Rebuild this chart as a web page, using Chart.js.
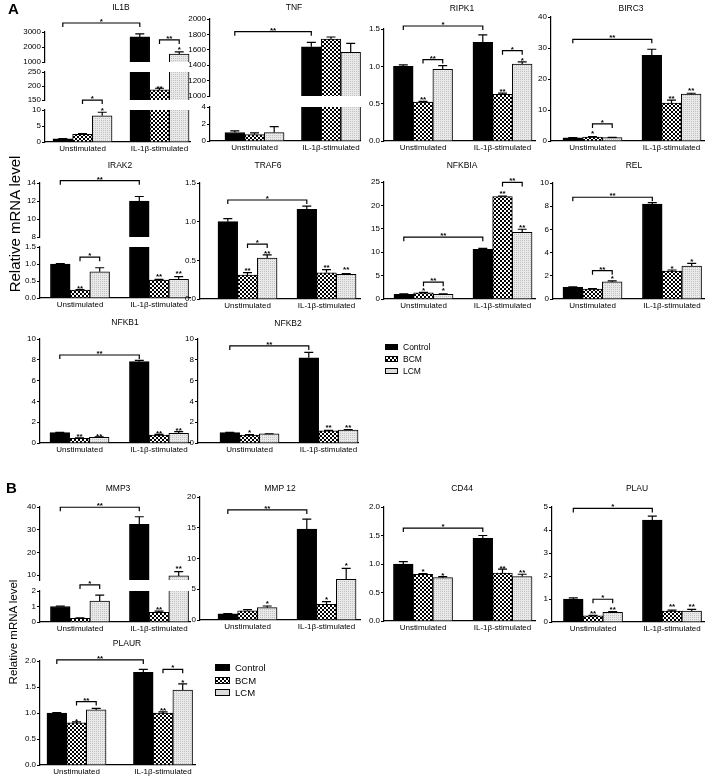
<!DOCTYPE html>
<html>
<head>
<meta charset="utf-8">
<script src="https://cdn.jsdelivr.net/npm/chart.js@4.4.1/dist/chart.umd.min.js"></script>
<style>
body { margin: 0; width: 714px; height: 780px; position: relative; overflow: hidden; background: #fff;
       font-family: "Liberation Sans", Arial, sans-serif; color: #000; }
canvas { position: absolute; }
.title { position: absolute; font-size: 8.5px; width: 80px; text-align: center; white-space: nowrap;
         opacity: 0.99; will-change: transform; }
.panel { position: absolute; font-weight: bold; font-size: 15px; }
.ylab { position: absolute; white-space: nowrap; transform: translate(-50%, -50%) rotate(-90deg); }
.sw { position: absolute; border: 1px solid #000; box-sizing: border-box; }
.lg { position: absolute; white-space: nowrap; transform: translateY(-50%); }
.c0 { background: #000; }
.c1 { background: conic-gradient(#000 25%, #fff 0 50%, #000 0 75%, #fff 0); background-size: 4px 4px; }
.c2 { background: #dcdcdc; }
</style>
</head>
<body>
<script>
const groups = ['Unstimulated', 'IL-1β-stimulated'];
const series = ['Control', 'BCM', 'LCM'];

// bar heights per series (Control, BCM, LCM), [unstimulated, IL-1β-stimulated]
const IL1B = [[1.0, 2670], [2.4, 186], [8.2, 1530]];
const IL1B_err = [[1.1, 2870], [2.6, 192], [9.3, 1670]];
const TNF = [[1.0, 1640], [0.75, 1740], [1.0, 1567]];
const TNF_err = [[1.2, 1697], [0.95, 1766], [1.7, 1684]];
const RIPK1 = [[1.0, 1.32], [0.52, 0.625], [0.96, 1.03]];
const RIPK1_err = [[1.02, 1.42], [0.53, 0.64], [1.01, 1.06]];
const BIRC3 = [[1.0, 27.6], [1.3, 12.2], [1.1, 15.1]];
const BIRC3_err = [[1.1, 29.6], [1.4, 13.2], [1.2, 15.4]];
const IRAK2 = [[1.0, 12.0], [0.23, 0.53], [0.77, 0.55]];
const IRAK2_err = [[1.01, 12.5], [0.25, 0.55], [0.89, 0.63]];
const TRAF6 = [[1.0, 1.16], [0.31, 0.34], [0.53, 0.32]];
const TRAF6_err = [[1.04, 1.2], [0.34, 0.38], [0.57, 0.33]];
const NFKBIA = [[1.0, 10.6], [1.3, 21.9], [1.0, 14.25]];
const NFKBIA_err = [[1.1, 10.8], [1.4, 22.0], [1.1, 14.9]];
const REL = [[1.0, 8.19], [0.85, 2.41], [1.47, 2.84]];
const REL_err = [[1.05, 8.3], [0.9, 2.5], [1.57, 3.07]];
const NFKB1 = [[1.0, 7.82], [0.45, 0.77], [0.55, 0.93]];
const NFKB1_err = [[1.02, 7.95], [0.5, 0.82], [0.6, 1.09]];
const NFKB2 = [[1.0, 8.2], [0.77, 1.18], [0.87, 1.25]];
const NFKB2_err = [[1.03, 8.72], [0.8, 1.22], [0.89, 1.3]];
const MMP3 = [[1.0, 32.4], [0.24, 0.63], [1.35, 9.6]];
const MMP3_err = [[1.03, 35.7], [0.26, 0.7], [1.74, 11.5]];
const MMP12 = [[1.0, 14.8], [1.5, 2.56], [2.0, 6.6]];
const MMP12_err = [[1.05, 16.4], [1.7, 3.0], [2.28, 8.4]];
const CD44 = [[1.0, 1.45], [0.82, 0.84], [0.76, 0.78]];
const CD44_err = [[1.04, 1.5], [0.83, 0.91], [0.78, 0.82]];
const PLAU = [[1.0, 4.43], [0.27, 0.47], [0.42, 0.48]];
const PLAU_err = [[1.05, 4.6], [0.29, 0.52], [0.45, 0.55]];
const PLAUR = [[1.0, 1.78], [0.81, 1.0], [1.06, 1.44]];
const PLAUR_err = [[1.01, 1.84], [0.83, 1.02], [1.09, 1.56]];

// significance marks: bracket a..b ([series, group]) or star over a bar, at value v
const IL1B_sig = [
  {s: 0, a: [0, 0], b: [0, 1], v: 3600, t: '*'},
  {s: 0, a: [1, 1], b: [2, 1], v: 2470, t: '**'},
  {s: 0, at: [2, 1], v: 1950, t: '*'},
  {s: 1, at: [1, 1], v: 197, t: '**'},
  {s: 2, a: [1, 0], b: [2, 0], v: 13.1, t: '*'},
  {s: 2, at: [2, 0], v: 10.5, t: '*'}
];
const TNF_sig = [{s: 0, a: [0, 0], b: [0, 1], v: 1835, t: '**'}];
const RIPK1_sig = [
  {a: [0, 0], b: [0, 1], v: 1.54, t: '*'}, {a: [1, 0], b: [2, 0], v: 1.09, t: '**'},
  {a: [1, 1], b: [2, 1], v: 1.21, t: '*'}, {at: [1, 0], v: 0.58, t: '**'},
  {at: [1, 1], v: 0.69, t: '**'}, {at: [2, 1], v: 1.11, t: '*'}
];
const BIRC3_sig = [
  {a: [0, 0], b: [0, 1], v: 32.8, t: '**'}, {a: [1, 0], b: [2, 0], v: 5.5, t: '*'},
  {at: [1, 0], v: 3.2, t: '*'}, {at: [1, 1], v: 14.3, t: '**'}, {at: [2, 1], v: 17, t: '**'}
];
const IRAK2_sig = [
  {s: 0, a: [0, 0], b: [0, 1], v: 14.26, t: '**'}, {s: 1, a: [1, 0], b: [2, 0], v: 1.2, t: '*'},
  {s: 1, at: [1, 0], v: 0.35, t: '**'}, {s: 1, at: [1, 1], v: 0.68, t: '**'}, {s: 1, at: [2, 1], v: 0.77, t: '**'}
];
const TRAF6_sig = [
  {a: [0, 0], b: [0, 1], v: 1.28, t: '*'}, {a: [1, 0], b: [2, 0], v: 0.71, t: '*'},
  {at: [1, 0], v: 0.40, t: '**'}, {at: [2, 0], v: 0.62, t: '**'},
  {at: [1, 1], v: 0.43, t: '**'}, {at: [2, 1], v: 0.41, t: '**'}
];
const NFKBIA_sig = [
  {a: [0, 0], b: [0, 1], v: 13.2, t: '**'}, {a: [1, 1], b: [2, 1], v: 24.9, t: '**'},
  {a: [1, 0], b: [2, 0], v: 3.6, t: '**'}, {at: [1, 0], v: 2.35, t: '*'}, {at: [2, 0], v: 2.35, t: '*'},
  {at: [1, 1], v: 22.9, t: '**'}, {at: [2, 1], v: 15.8, t: '**'}
];
const REL_sig = [
  {a: [0, 0], b: [0, 1], v: 8.77, t: '**'}, {a: [1, 0], b: [2, 0], v: 2.44, t: '**'},
  {at: [2, 0], v: 1.98, t: '*'}, {at: [1, 1], v: 2.8, t: '*'}, {at: [2, 1], v: 3.45, t: '*'}
];
const NFKB1_sig = [
  {a: [0, 0], b: [0, 1], v: 8.46, t: '**'}, {at: [1, 0], v: 0.87, t: '**'}, {at: [2, 0], v: 0.87, t: '**'},
  {at: [1, 1], v: 1.15, t: '**'}, {at: [2, 1], v: 1.41, t: '**'}
];
const NFKB2_sig = [
  {a: [0, 0], b: [0, 1], v: 9.33, t: '**'}, {at: [1, 0], v: 1.18, t: '*'},
  {at: [1, 1], v: 1.66, t: '**'}, {at: [2, 1], v: 1.66, t: '**'}
];
const MMP3_sig = [
  {s: 0, a: [0, 0], b: [0, 1], v: 39.9, t: '**'}, {s: 0, at: [2, 1], v: 13.7, t: '**'},
  {s: 1, a: [1, 0], b: [2, 0], v: 2.39, t: '*'}, {s: 1, at: [1, 1], v: 0.92, t: '**'}
];
const MMP12_sig = [
  {a: [0, 0], b: [0, 1], v: 17.9, t: '**'}, {at: [2, 0], v: 3.0, t: '*'},
  {at: [1, 1], v: 3.7, t: '*'}, {at: [2, 1], v: 9.25, t: '*'}
];
const CD44_sig = [
  {a: [0, 0], b: [0, 1], v: 1.63, t: '*'}, {at: [1, 0], v: 0.91, t: '*'}, {at: [2, 0], v: 0.84, t: '*'},
  {at: [1, 1], v: 0.96, t: '**'}, {at: [2, 1], v: 0.89, t: '**'}
];
const PLAU_sig = [
  {a: [0, 0], b: [0, 1], v: 4.94, t: '*'}, {a: [1, 0], b: [2, 0], v: 0.99, t: '*'},
  {at: [1, 0], v: 0.45, t: '**'}, {at: [2, 0], v: 0.62, t: '**'},
  {at: [1, 1], v: 0.78, t: '**'}, {at: [2, 1], v: 0.78, t: '**'}
];
const PLAUR_sig = [
  {a: [0, 0], b: [0, 1], v: 2.02, t: '**'}, {a: [1, 0], b: [2, 0], v: 1.22, t: '**'},
  {a: [1, 1], b: [2, 1], v: 1.84, t: '*'}, {at: [1, 0], v: 0.88, t: '*'},
  {at: [1, 1], v: 1.09, t: '**'}, {at: [2, 1], v: 1.63, t: '*'}
];

// panel layout (pixels); broken axes are split into segments, top first
const panels = [
  {t: 'IL1B', tx: 121, ty: 7, d: IL1B, e: IL1B_err, s: IL1B_sig, x0: 45, x1: 190, c0: 82.5, c1: 159.5,
   segs: [{min: 1000, max: 3000, ticks: [1000, 2000, 3000], top: 32, bot: 62},
          {min: 150, max: 250, ticks: [150, 200, 250], top: 72, bot: 100},
          {min: 0, max: 10, ticks: [0, 5, 10], top: 110, bot: 142}]},
  {t: 'TNF', tx: 294, ty: 7, d: TNF, e: TNF_err, s: TNF_sig, x0: 210, x1: 360, c0: 254.5, c1: 331,
   segs: [{min: 1000, max: 2000, ticks: [1000, 1200, 1400, 1600, 1800, 2000], top: 19, bot: 96},
          {min: 0, max: 4, ticks: [0, 2, 4], top: 107, bot: 141}]},
  {t: 'RIPK1', tx: 462, ty: 8, d: RIPK1, e: RIPK1_err, s: RIPK1_sig, x0: 384, x1: 535, c0: 423, c1: 502.5,
   segs: [{min: 0, max: 1.5, ticks: [0, 0.5, 1, 1.5], dec: 1, top: 29, bot: 141}]},
  {t: 'BIRC3', tx: 631, ty: 8, d: BIRC3, e: BIRC3_err, s: BIRC3_sig, x0: 551, x1: 704, c0: 592.5, c1: 671.5,
   segs: [{min: 0, max: 40, ticks: [0, 10, 20, 30, 40], top: 17, bot: 141}]},
  {t: 'IRAK2', tx: 120, ty: 165, d: IRAK2, e: IRAK2_err, s: IRAK2_sig, x0: 40, x1: 190, c0: 80, c1: 159,
   segs: [{min: 8, max: 14, ticks: [8, 10, 12, 14], top: 183, bot: 237},
          {min: 0, max: 1.5, ticks: [0, 0.5, 1, 1.5], dec: 1, top: 247, bot: 298}]},
  {t: 'TRAF6', tx: 268, ty: 165, d: TRAF6, e: TRAF6_err, s: TRAF6_sig, x0: 200, x1: 360, c0: 247.5, c1: 326.5,
   segs: [{min: 0, max: 1.5, ticks: [0, 0.5, 1, 1.5], dec: 1, top: 183, bot: 299}]},
  {t: 'NFKBIA', tx: 462, ty: 165, d: NFKBIA, e: NFKBIA_err, s: NFKBIA_sig, x0: 384, x1: 535, c0: 423.5, c1: 502.5,
   segs: [{min: 0, max: 25, ticks: [0, 5, 10, 15, 20, 25], top: 182, bot: 299}]},
  {t: 'REL', tx: 634, ty: 165, d: REL, e: REL_err, s: REL_sig, x0: 553, x1: 704, c0: 592.5, c1: 672,
   segs: [{min: 0, max: 10, ticks: [0, 2, 4, 6, 8, 10], top: 183, bot: 299}]},
  {t: 'NFKB1', tx: 125, ty: 322, d: NFKB1, e: NFKB1_err, s: NFKB1_sig, x0: 40, x1: 190, c0: 79.5, c1: 159,
   segs: [{min: 0, max: 10, ticks: [0, 2, 4, 6, 8, 10], top: 339, bot: 443}]},
  {t: 'NFKB2', tx: 288, ty: 323, d: NFKB2, e: NFKB2_err, s: NFKB2_sig, x0: 198, x1: 358, c0: 249.5, c1: 328.5,
   segs: [{min: 0, max: 10, ticks: [0, 2, 4, 6, 8, 10], top: 339, bot: 443}]},
  {t: 'MMP3', tx: 118, ty: 488, d: MMP3, e: MMP3_err, s: MMP3_sig, x0: 40, x1: 190, c0: 80, c1: 159,
   segs: [{min: 7.8, max: 40, ticks: [10, 20, 30, 40], top: 507, bot: 580},
          {min: 0, max: 2, ticks: [0, 1, 2], top: 591, bot: 622}]},
  {t: 'MMP 12', tx: 280, ty: 488, d: MMP12, e: MMP12_err, s: MMP12_sig, x0: 200, x1: 360, c0: 247.5, c1: 326.5,
   segs: [{min: 0, max: 20, ticks: [0, 5, 10, 15, 20], top: 497, bot: 620}]},
  {t: 'CD44', tx: 462, ty: 488, d: CD44, e: CD44_err, s: CD44_sig, x0: 384, x1: 535, c0: 423, c1: 502.5,
   segs: [{min: 0, max: 2, ticks: [0, 0.5, 1, 1.5, 2], dec: 1, top: 507, bot: 621}]},
  {t: 'PLAU', tx: 637, ty: 488, d: PLAU, e: PLAU_err, s: PLAU_sig, x0: 552, x1: 704, c0: 593, c1: 672,
   segs: [{min: 0, max: 5, ticks: [0, 1, 2, 3, 4, 5], top: 507, bot: 622}]},
  {t: 'PLAUR', tx: 127, ty: 643, d: PLAUR, e: PLAUR_err, s: PLAUR_sig, x0: 40, x1: 195, c0: 76.5, c1: 163,
   segs: [{min: 0, max: 2, ticks: [0, 0.5, 1, 1.5, 2], dec: 1, top: 661, bot: 765}]}
];

const AXW = 30, PR = 6, XH = 14, PADT = 24, PADB = 6, BAR = 19.7, CAP = 4.5;
const FAMILY = "'Liberation Sans', Arial, sans-serif";
const tickFont = {family: FAMILY, size: 8};

// fills: solid black, checkerboard, light stipple
function makePattern(size, paint) {
    const c = document.createElement('canvas');
    c.width = c.height = size;
    paint(c.getContext('2d'));
    return c.getContext('2d').createPattern(c, 'repeat');
}
const fills = [
    '#000',
    makePattern(4, g => {
        g.fillStyle = '#fff'; g.fillRect(0, 0, 4, 4);
        g.fillStyle = '#000'; g.fillRect(0, 0, 2, 2); g.fillRect(2, 2, 2, 2);
    }),
    makePattern(2, g => {
        g.fillStyle = '#e9e9e9'; g.fillRect(0, 0, 2, 2);
        g.fillStyle = '#c2c2c2'; g.fillRect(0, 0, 1, 1);
    })
];

// error bars and significance marks for one segment
function makeMarks(p, k) {
    const seg = p.segs[k];
    return {
        id: 'marks',
        afterDatasetsDraw(chart) {
            const ctx = chart.ctx;
            const ys = chart.scales.y;
            const barX = ([i, j]) => chart.getDatasetMeta(i).data[j].x;
            ctx.save();
            ctx.strokeStyle = '#000';
            ctx.fillStyle = '#000';
            ctx.lineWidth = 1.2;
            for (let i = 0; i < 3; i++) {
                for (let j = 0; j < 2; j++) {
                    const v = p.d[i][j];
                    if (v <= seg.min || v > seg.max) continue;
                    const x = barX([i, j]);
                    const y0 = ys.getPixelForValue(v);
                    const y1 = ys.getPixelForValue(p.e[i][j]);
                    ctx.beginPath();
                    ctx.moveTo(x, y0); ctx.lineTo(x, y1);
                    ctx.moveTo(x - CAP, y1); ctx.lineTo(x + CAP, y1);
                    ctx.stroke();
                }
            }
            ctx.font = 'bold 8px ' + FAMILY;
            ctx.textAlign = 'center';
            ctx.textBaseline = 'alphabetic';
            p.s.filter(m => (m.s || 0) === k).forEach(m => {
                const y = ys.getPixelForValue(m.v);
                if (m.a) {
                    const xa = barX(m.a), xb = barX(m.b);
                    ctx.beginPath();
                    ctx.moveTo(xa, y + 4); ctx.lineTo(xa, y); ctx.lineTo(xb, y); ctx.lineTo(xb, y + 4);
                    ctx.stroke();
                    ctx.fillText(m.t, (xa + xb) / 2, y + 1);
                } else {
                    ctx.fillText(m.t, barX(m.at), y + 4.6);
                }
            });
            ctx.restore();
        }
    };
}

function addSegment(p, k) {
    const seg = p.segs[k];
    const last = k === p.segs.length - 1;
    const w = AXW + (p.x1 - p.x0) + PR;
    const h = PADT + (seg.bot - seg.top) + (last ? XH : PADB);
    const cv = document.createElement('canvas');
    cv.width = w; cv.height = h;
    cv.style.left = (p.x0 - AXW) + 'px';
    cv.style.top = (seg.top - PADT) + 'px';
    cv.style.width = w + 'px'; cv.style.height = h + 'px';
    document.body.appendChild(cv);

    const span = p.c1 - p.c0;
    new Chart(cv, {
        type: 'bar',
        data: {
            datasets: series.map((name, i) => ({
                label: name,
                data: groups.map((g, j) => ({x: j, y: p.d[i][j]})),
                backgroundColor: fills[i],
                borderColor: '#000',
                borderWidth: 1,
                barThickness: BAR,
                clip: {left: 8, right: 8, top: 0, bottom: 0}
            }))
        },
        options: {
            responsive: false,
            animation: false,
            devicePixelRatio: 1,
            layout: {padding: {top: PADT, bottom: last ? 0 : PADB, left: 0, right: PR}},
            plugins: {legend: {display: false}, tooltip: {enabled: false}},
            scales: {
                x: {
                    type: 'linear',
                    offset: false,
                    display: last,
                    min: (p.x0 - p.c0) / span,
                    max: 1 + (p.x1 - p.c1) / span,
                    afterBuildTicks: s => { s.ticks = groups.map((g, j) => ({value: j})); },
                    afterFit: s => { s.height = last ? XH : 0; },
                    grid: {display: false, drawTicks: false},
                    border: {display: true, color: '#000', width: 1.2},
                    ticks: {callback: v => groups[v], font: tickFont, color: '#000', padding: 2,
                            autoSkip: false, maxRotation: 0}
                },
                y: {
                    min: seg.min,
                    max: seg.max,
                    afterBuildTicks: s => { s.ticks = seg.ticks.map(v => ({value: v})); },
                    afterFit: s => { s.width = AXW; },
                    grid: {drawOnChartArea: false, drawTicks: true, tickLength: 3, color: '#000', lineWidth: 1},
                    border: {display: true, color: '#000', width: 1.2},
                    ticks: {callback: v => v.toFixed(seg.dec || 0), font: tickFont, color: '#000', padding: 1,
                            autoSkip: false}
                }
            }
        },
        plugins: [makeMarks(p, k)]
    });
}

function addText(cls, html, style) {
    const el = document.createElement('div');
    el.className = cls;
    el.innerHTML = html;
    Object.assign(el.style, style);
    document.body.appendChild(el);
    return el;
}

function addLegend(x, ys, sw, sh, size) {
    series.forEach((name, i) => {
        addText('sw c' + i, '', {left: x + 'px', top: (ys[i] - sh / 2) + 'px', width: sw + 'px', height: sh + 'px'});
        addText('lg', name, {left: (x + sw + 5) + 'px', top: ys[i] + 'px', fontSize: size + 'px'});
    });
}

panels.forEach(p => {
    addText('title', p.t, {left: (p.tx - 40) + 'px', top: (p.ty - 5) + 'px'});
    p.segs.forEach((s, k) => addSegment(p, k));
});

addText('panel', 'A', {left: '8px', top: '0px'});
addText('panel', 'B', {left: '6px', top: '479px'});
addText('ylab', 'Relative mRNA level', {left: '14px', top: '224px', fontSize: '15px'});
addText('ylab', 'Relative mRNA level', {left: '12.5px', top: '632px', fontSize: '11.5px'});
addLegend(385, [347, 359, 371], 13, 6, 8.5);
addLegend(215, [667, 680, 692], 15, 7, 9.5);
</script>
</body>
</html>
